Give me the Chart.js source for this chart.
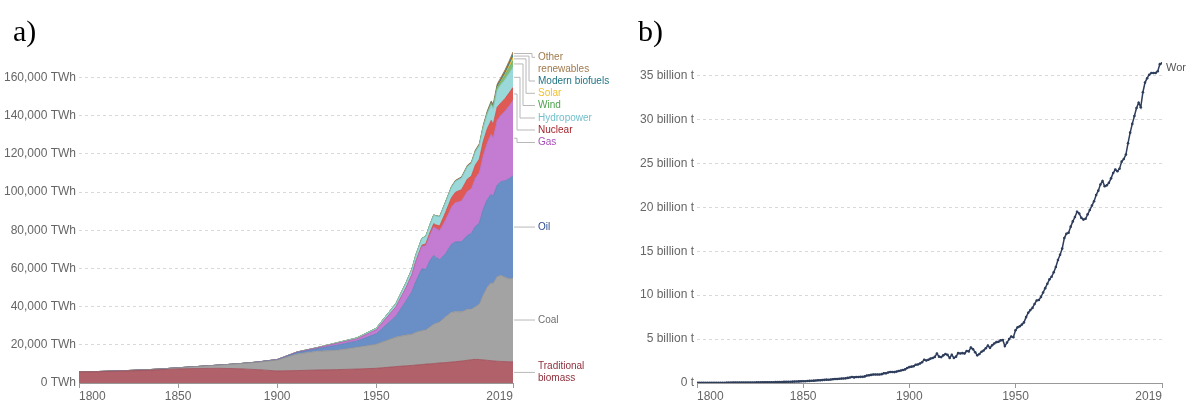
<!DOCTYPE html>
<html>
<head>
<meta charset="utf-8">
<script src="https://cdn.jsdelivr.net/npm/chart.js@4.4.1/dist/chart.umd.min.js"></script>
<style>
  html, body { margin: 0; padding: 0; background: #fff; }
  body { width: 1186px; height: 400px; position: relative; overflow: hidden; }
  canvas { position: absolute; top: 0; }
  .tag { position: absolute; font-family: "Liberation Serif", "Times New Roman", serif; font-size: 30px; line-height: 30px; color: #000; }
</style>
</head>
<body>
<canvas id="energy" width="620" height="400" style="left:0"></canvas>
<canvas id="co2" width="586" height="400" style="left:600px"></canvas>
<div class="tag" style="left:13px;top:16px">a)</div>
<div class="tag" style="left:638px;top:16px">b)</div>
<script>
// ---- a) primary energy by source, TWh ----
const energyYears = [1800, 1810, 1820, 1830, 1840, 1850, 1860, 1870, 1880, 1890,
  1900, 1910, 1920, 1930, 1940, 1950, 1960, 1965, 1968, 1970, 1973, 1975, 1977, 1979,
  1980, 1982, 1985, 1988, 1990, 1993, 1996, 1998, 2000, 2002, 2004, 2006, 2008, 2009,
  2011, 2013, 2015, 2017, 2019];

const traditionalBiomass = [5800, 5900, 6200, 6500, 6900, 7400, 7600, 7700, 7500, 7000,
  6300, 6500, 6800, 7000, 7300, 7700, 8600, 9000, 9200, 9400, 9700, 9900, 10000, 10200,
  10300, 10500, 10700, 11000, 11200, 11500, 11900, 12200, 12400, 12300, 12100, 11900, 11700, 11600,
  11400, 11300, 11200, 11100, 11100];
const coal = [100, 130, 150, 260, 360, 570, 1060, 1640, 2540, 3860,
  5730, 8660, 9830, 10120, 11360, 12600, 15440, 16140, 16280, 17160, 17710, 17910, 19240, 20600,
  20900, 21500, 24000, 26100, 26200, 25800, 26700, 26500, 27600, 29000, 34100, 38300, 40800, 40500,
  44400, 45100, 44200, 43500, 43800];
const oil = [0, 0, 0, 0, 0, 0, 0, 0, 0, 90,
  180, 760, 1280, 2640, 3260, 5440, 11100, 17800, 22400, 26700, 32400, 31600, 34700, 36100,
  34600, 32600, 33100, 35600, 36500, 36700, 38700, 39700, 42000, 42500, 44900, 45900, 46400, 45600,
  47900, 49200, 50500, 52400, 53600];
const gas = [0, 0, 0, 0, 0, 0, 0, 0, 0, 30,
  60, 230, 400, 880, 1060, 2090, 4830, 6900, 8800, 10400, 11800, 12500, 13400, 14900,
  15100, 15300, 17600, 19500, 20600, 21400, 23100, 23400, 25300, 26400, 28100, 29700, 31500, 30700,
  33900, 34800, 36600, 38100, 39500];
const nuclear = [0, 0, 0, 0, 0, 0, 0, 0, 0, 0,
  0, 0, 0, 0, 0, 0, 20, 70, 130, 220, 570, 1040, 1300, 1700,
  1950, 2400, 4100, 5000, 5500, 5900, 6500, 6600, 6900, 7100, 7400, 7400, 7200, 7100,
  6900, 6500, 6600, 6800, 6900];
const hydropower = [0, 0, 0, 0, 0, 0, 0, 0, 0, 0,
  50, 100, 200, 400, 600, 900, 1800, 2600, 2900, 3300, 3600, 3900, 4100, 4500,
  4700, 4800, 5300, 5500, 5700, 6100, 6500, 6700, 7000, 7100, 7400, 7800, 8200, 8300,
  9000, 9500, 9900, 10200, 10500];
const wind = [0, 0, 0, 0, 0, 0, 0, 0, 0, 0,
  0, 0, 0, 0, 0, 0, 0, 0, 0, 0, 0, 0, 0, 0,
  0, 0, 0, 0, 10, 20, 40, 60, 85, 140, 230, 360, 560, 720,
  1100, 1600, 2200, 2900, 3540];
const solar = [0, 0, 0, 0, 0, 0, 0, 0, 0, 0,
  0, 0, 0, 0, 0, 0, 0, 0, 0, 0, 0, 0, 0, 0,
  0, 0, 0, 0, 0, 0, 0, 0, 3, 5, 8, 15, 35, 55,
  170, 350, 660, 1150, 1790];
const modernBiofuels = [0, 0, 0, 0, 0, 0, 0, 0, 0, 0,
  0, 0, 0, 0, 0, 0, 0, 0, 0, 0, 0, 0, 0, 0,
  30, 50, 80, 90, 100, 100, 100, 100, 110, 130, 180, 330, 530, 570,
  700, 760, 860, 950, 1110];
const otherRenewables = [0, 0, 0, 0, 0, 0, 0, 0, 0, 0,
  0, 0, 0, 0, 0, 0, 20, 40, 50, 70, 90, 100, 120, 140,
  150, 180, 260, 360, 420, 480, 540, 590, 650, 680, 730, 800, 880, 920,
  1100, 1200, 1350, 1480, 1610];

const energyTicks = [0, 20000, 40000, 60000, 80000, 100000, 120000, 140000, 160000];
const yearTicks = [1800, 1850, 1900, 1950, 2019];

// ---- b) annual CO2 emissions, World, billion t (1800 .. 2019) ----
const co2World = [
  0.028, 0.028, 0.030, 0.030, 0.031, 0.032, 0.033, 0.034, 0.035, 0.035,
  0.035, 0.036, 0.037, 0.037, 0.038, 0.040, 0.042, 0.043, 0.045, 0.046,
  0.047, 0.049, 0.051, 0.053, 0.056, 0.059, 0.061, 0.064, 0.066, 0.068,
  0.071, 0.074, 0.077, 0.080, 0.083, 0.087, 0.092, 0.097, 0.104, 0.110,
  0.118, 0.124, 0.130, 0.136, 0.143, 0.152, 0.161, 0.172, 0.181, 0.186,
  0.197, 0.205, 0.220, 0.240, 0.260, 0.270, 0.290, 0.300, 0.300, 0.330,
  0.360, 0.380, 0.370, 0.400, 0.430, 0.450, 0.450, 0.490, 0.500, 0.520,
  0.530, 0.580, 0.620, 0.680, 0.640, 0.680, 0.690, 0.700, 0.700, 0.750,
  0.850, 0.870, 0.920, 0.970, 0.970, 0.960, 0.970, 1.010, 1.100, 1.100,
  1.200, 1.250, 1.260, 1.240, 1.300, 1.370, 1.420, 1.480, 1.550, 1.700,
  1.810, 1.860, 1.900, 2.080, 2.100, 2.220, 2.360, 2.650, 2.560, 2.650,
  2.780, 2.850, 2.970, 3.350, 3.000, 2.950, 3.150, 3.300, 3.200, 2.850,
  3.200, 2.850, 3.000, 3.400, 3.350, 3.400, 3.350, 3.650, 3.600, 4.050,
  3.850, 3.500, 3.150, 3.300, 3.550, 3.700, 3.950, 4.250, 4.000, 4.300,
  4.500, 4.650, 4.700, 4.850, 4.900, 4.200, 4.600, 5.000, 5.300, 5.200,
  6.000, 6.350, 6.450, 6.650, 6.900, 7.500, 8.000, 8.300, 8.550, 9.000,
  9.400, 9.450, 9.800, 10.300, 10.800, 11.300, 11.800, 12.100, 12.600, 13.200,
  14.000, 14.600, 15.300, 16.500, 17.000, 17.100, 17.800, 18.400, 18.900, 19.500,
  19.300, 18.800, 18.600, 18.700, 19.200, 19.700, 20.200, 20.700, 21.400, 21.900,
  22.600, 23.000, 22.400, 22.500, 22.800, 23.300, 23.900, 24.300, 24.100, 24.400,
  25.200, 25.500, 26.000, 27.300, 28.500, 29.500, 30.400, 31.300, 31.900, 31.400,
  33.100, 34.200, 34.700, 35.100, 35.300, 35.300, 35.300, 35.500, 36.300, 36.400
];
const co2Years = co2World.map((_, i) => 1800 + i);
const co2Ticks = [0, 5, 10, 15, 20, 25, 30, 35];

const FONT = "'Liberation Sans', Arial, sans-serif";
Chart.defaults.font.family = FONT;
Chart.defaults.font.size = 12;
Chart.defaults.color = '#666';

// bottom to top; label layout for the right-hand annotations
const sources = [
  { name: ['Traditional', 'biomass'], values: traditionalBiomass, fill: '#b0616a', edge: '#9c4e58', text: '#8e2f3c', elbow: 525 },
  { name: ['Coal'], values: coal, fill: '#a3a3a3', edge: '#8e8e8e', text: '#6e6e6e', elbow: 525 },
  { name: ['Oil'], values: oil, fill: '#6a8ec6', edge: '#5a7db5', text: '#2c4b8e', elbow: 525 },
  { name: ['Gas'], values: gas, fill: '#c47cd2', edge: '#b06cbf', text: '#a64db8', elbow: 517, labelY: 142.5 },
  { name: ['Nuclear'], values: nuclear, fill: '#e05a55', edge: '#cc4a46', text: '#a5242a', elbow: 517, labelY: 130 },
  { name: ['Hydropower'], values: hydropower, fill: '#9bd8da', edge: '#82c4c7', text: '#72bfcc', elbow: 520, labelY: 118 },
  { name: ['Wind'], values: wind, fill: '#7fbf7a', edge: '#6aab66', text: '#4ea24e', elbow: 523, labelY: 105.5 },
  { name: ['Solar'], values: solar, fill: '#f3c84b', edge: '#e0b53a', text: '#f0c02a', elbow: 526, labelY: 93.3 },
  { name: ['Modern biofuels'], values: modernBiofuels, fill: '#2a8a8f', edge: '#1f7880', text: '#1f7384', elbow: 529, labelY: 81 },
  { name: ['Other', 'renewables'], values: otherRenewables, fill: '#a57c52', edge: '#936b44', text: '#a07a4c', elbow: 532, labelY: 57.3 }
];

const leaderPlugin = {
  id: 'leaders',
  afterDraw(chart) {
    const ctx = chart.ctx;
    const xStart = chart.chartArea.right + 1;
    let prevTop = chart.scales.y.getPixelForValue(0);
    ctx.save();
    ctx.lineWidth = 1;
    ctx.strokeStyle = '#b8b8b8';
    ctx.font = '10px ' + FONT;
    ctx.textBaseline = 'middle';
    sources.forEach((s, i) => {
      const pts = chart.getDatasetMeta(i).data;
      const top = pts[pts.length - 1].y;
      const mid = (top + prevTop) / 2;
      prevTop = top;
      const ly = s.labelY !== undefined ? s.labelY : mid;
      ctx.beginPath();
      ctx.moveTo(xStart, mid);
      ctx.lineTo(s.elbow, mid);
      ctx.lineTo(s.elbow, ly);
      ctx.lineTo(535, ly);
      ctx.stroke();
      ctx.fillStyle = s.text;
      const firstY = s.labelY !== undefined ? ly : ly - (s.name.length - 1) * 6;
      s.name.forEach((line, k) => ctx.fillText(line, 538, firstY + k * 12));
    });
    ctx.restore();
  }
};

new Chart(document.getElementById('energy'), {
  type: 'line',
  data: {
    datasets: sources.map((s, i) => ({
      label: s.name.join(' '),
      data: energyYears.map((yr, k) => ({ x: yr, y: s.values[k] })),
      backgroundColor: s.fill,
      borderColor: s.edge,
      borderWidth: 0.8,
      pointRadius: 0,
      fill: i === 0 ? 'origin' : '-1',
      tension: 0
    }))
  },
  options: {
    responsive: false,
    animation: false,
    layout: { padding: { top: 49, right: 107, left: 0, bottom: 0 } },
    plugins: { legend: { display: false }, tooltip: { enabled: false } },
    scales: {
      x: {
        type: 'linear', min: 1800, max: 2019,
        afterBuildTicks: s => { s.ticks = yearTicks.map(v => ({ value: v })); },
        afterFit: s => { s.height = 17; },
        ticks: { callback: v => String(v), align: 'inner', padding: 1, maxRotation: 0, autoSkip: false },
        grid: { drawOnChartArea: false, drawTicks: true, tickLength: 5, color: '#999' },
        border: { display: true, color: '#999' }
      },
      y: {
        stacked: true, min: 0, max: 175000,
        afterBuildTicks: s => { s.ticks = energyTicks.map(v => ({ value: v })); },
        afterFit: s => { s.width = 79; },
        ticks: { callback: v => v.toLocaleString('en-US') + ' TWh', padding: 3 },
        grid: { color: '#d9d9d9', drawTicks: false },
        border: { display: false, dash: [3, 3] }
      }
    }
  },
  plugins: [leaderPlugin]
});

const worldLabel = {
  id: 'worldLabel',
  afterDraw(chart) {
    const pts = chart.getDatasetMeta(0).data;
    const last = pts[pts.length - 1];
    const ctx = chart.ctx;
    ctx.save();
    ctx.font = '11px ' + FONT;
    ctx.fillStyle = '#555';
    ctx.textBaseline = 'middle';
    ctx.fillText('World', last.x + 4, last.y + 5);
    ctx.restore();
  }
};

new Chart(document.getElementById('co2'), {
  type: 'line',
  data: {
    datasets: [{
      label: 'World',
      data: co2Years.map((yr, i) => ({ x: yr, y: co2World[i] })),
      borderColor: '#2e3d5b',
      borderWidth: 1.5,
      pointRadius: 1.3,
      pointBackgroundColor: '#2e3d5b',
      pointBorderWidth: 0,
      tension: 0
    }]
  },
  options: {
    responsive: false,
    animation: false,
    layout: { padding: { top: 58, right: 24, left: 0, bottom: 0 } },
    plugins: { legend: { display: false }, tooltip: { enabled: false } },
    scales: {
      x: {
        type: 'linear', min: 1800, max: 2019,
        afterBuildTicks: s => { s.ticks = yearTicks.map(v => ({ value: v })); },
        afterFit: s => { s.height = 17; },
        ticks: { callback: v => String(v), align: 'inner', padding: 1, maxRotation: 0, autoSkip: false },
        grid: { drawOnChartArea: false, drawTicks: true, tickLength: 5, color: '#999' },
        border: { display: true, color: '#999' }
      },
      y: {
        min: 0, max: 37,
        afterBuildTicks: s => { s.ticks = co2Ticks.map(v => ({ value: v })); },
        afterFit: s => { s.width = 97; },
        ticks: { callback: v => v === 0 ? '0 t' : v + ' billion t', padding: 3 },
        grid: { color: '#d9d9d9', drawTicks: false },
        border: { display: false, dash: [3, 3] }
      }
    }
  },
  plugins: [worldLabel]
});
</script>
</body>
</html>
